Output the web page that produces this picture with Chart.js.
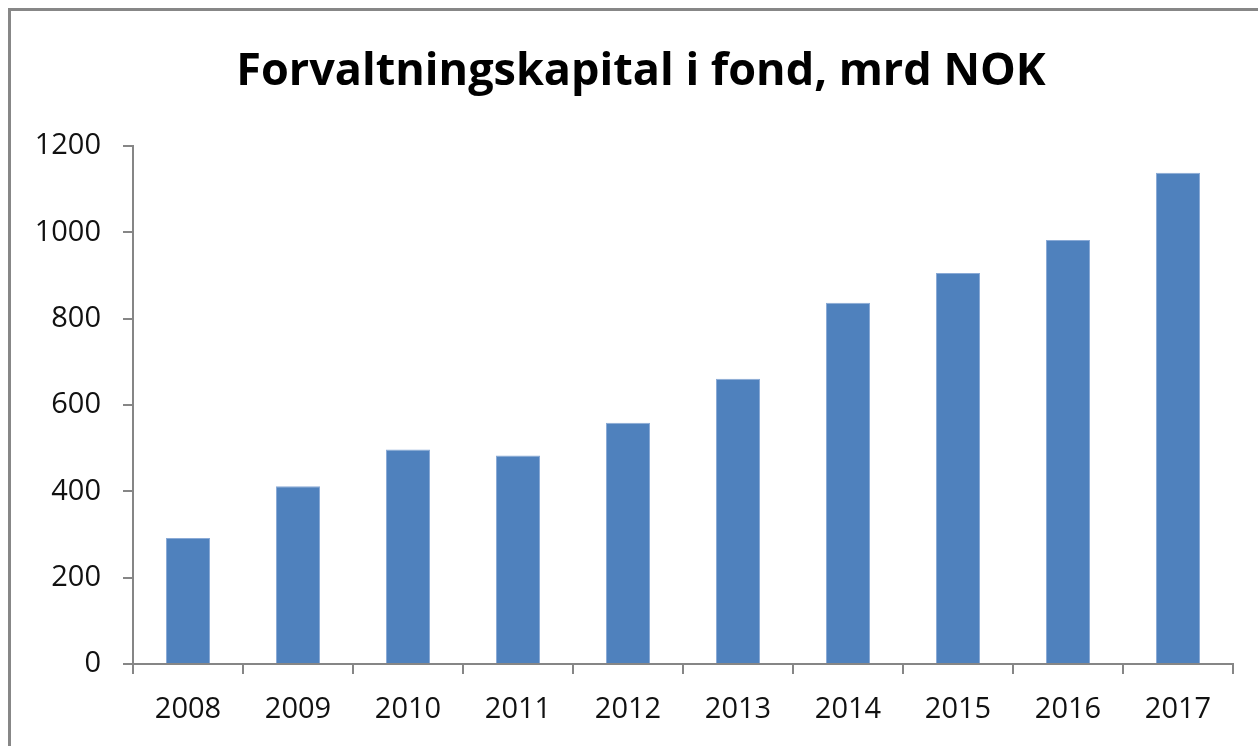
<!DOCTYPE html>
<html>
<head>
<meta charset="utf-8">
<script src="https://cdn.jsdelivr.net/npm/chart.js@4"></script>
<style>
  html, body { margin: 0; background: #fff; overflow: hidden; }
  #frame { position: absolute; left: 8px; top: 8px; width: 1400px; height: 900px;
           border-top: 3px solid #878787; border-left: 3px solid #878787; }
  #chart { position: absolute; left: 0; top: 0; }
</style>
</head>
<body>
<div id="frame"></div>
<canvas id="chart" width="1282" height="746"></canvas>
<script>
var years = ['2008','2009','2010','2011','2012','2013','2014','2015','2016','2017'];
var kapital = [292, 412, 497, 483, 559, 661, 837, 906, 982, 1138];
var yTicks = [0, 200, 400, 600, 800, 1000, 1200];

var axisGrey = '#868686';
var ctx = document.getElementById('chart').getContext('2d');
var chart = new Chart(ctx, {
  type: 'bar',
  data: {
    labels: years,
    datasets: [{
      label: 'Forvaltningskapital',
      data: kapital,
      yAxisID: 'y',
      backgroundColor: '#4F81BD',
      borderColor: '#8AAAD6',
      borderWidth: 1,
      categoryPercentage: 1.0,
      barPercentage: 0.4
    }]
  },
  options: {
    responsive: false,
    animation: false,
    layout: { padding: 0 },
    scales: {
      x: {
        offset: true,
        grid: { offset: true, drawOnChartArea: false, color: axisGrey, lineWidth: 2, tickLength: 10 },
        border: { color: axisGrey, width: 2 },
        ticks: { color: '#111', padding: 18, font: { family: 'Open Sans', size: 29 } },
        afterFit: function (scale) { scale.height = 82; }
      },
      y: {
        min: 0,
        max: 1200,
        afterBuildTicks: function (scale) { scale.ticks = yTicks.map(function (v) { return { value: v }; }); },
        grid: { drawOnChartArea: false, color: axisGrey, lineWidth: 2, tickLength: 10 },
        border: { color: axisGrey, width: 2 },
        ticks: {
          color: '#111', padding: 22, font: { family: 'Open Sans', size: 29 },
          callback: function (v) { return String(v); }
        },
        afterFit: function (scale) { scale.width = 133; }
      },
      // empty right-hand spacer so the title sits centred like the original
      spacer: {
        position: 'right',
        min: 0,
        max: 1200,
        grid: { display: false },
        border: { display: false },
        ticks: { display: false },
        afterFit: function (scale) { scale.width = 49; }
      }
    },
    plugins: {
      legend: { display: false },
      tooltip: { enabled: false },
      title: {
        display: true,
        text: 'Forvaltningskapital i fond, mrd NOK',
        color: '#000',
        font: { family: 'Open Sans', size: 45, weight: 'bold' },
        padding: { top: 45, bottom: 47 }
      }
    }
  }
});
</script>
</body>
</html>
